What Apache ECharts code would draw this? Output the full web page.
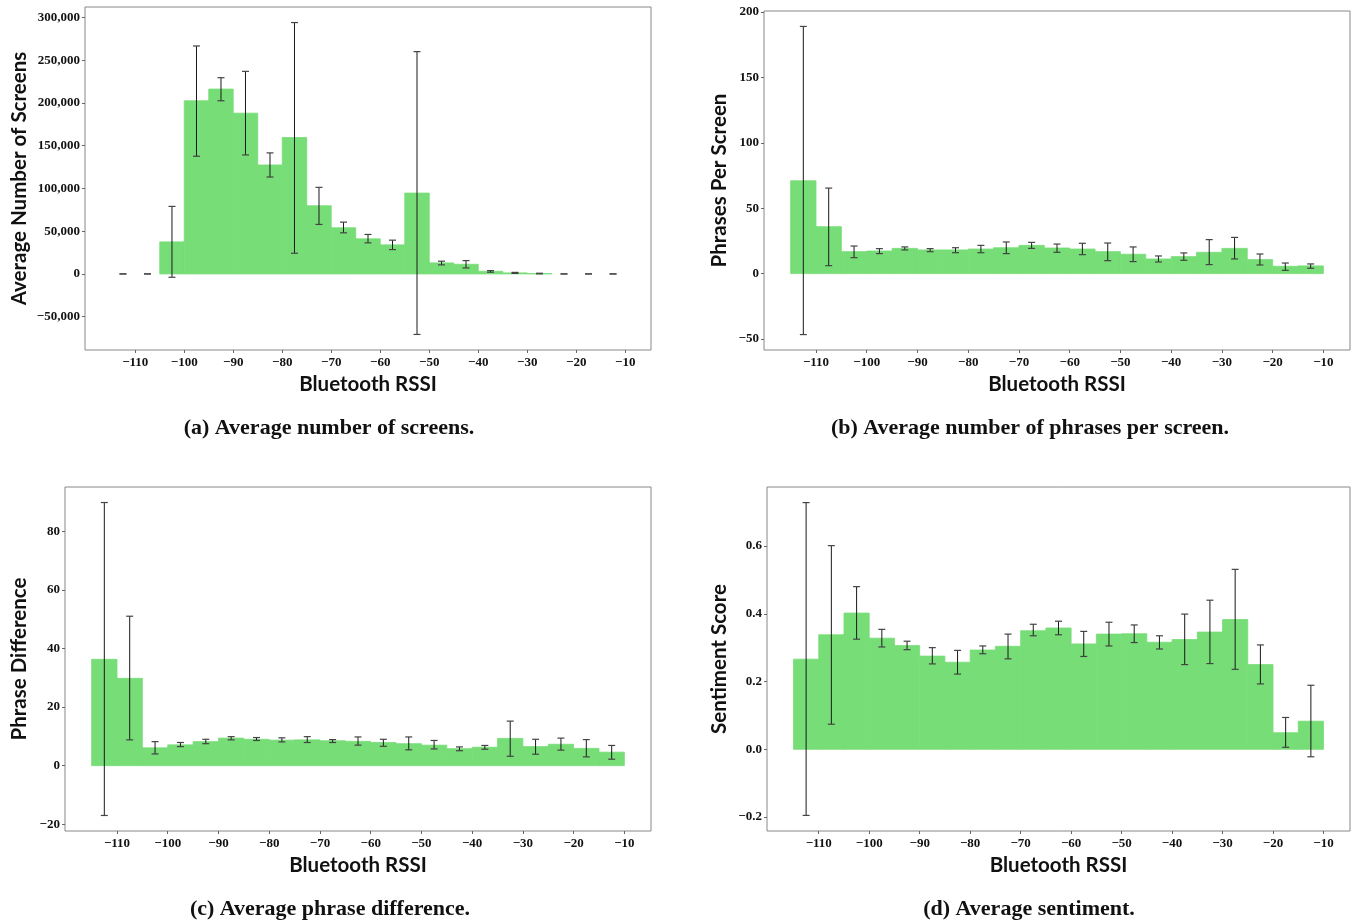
<!DOCTYPE html>
<html>
<head>
<meta charset="utf-8">
<script src="https://cdn.jsdelivr.net/npm/echarts@6.0.0/dist/echarts.min.js"></script>
<style>
  html, body { margin: 0; padding: 0; background: #fff; }
  #chart { width: 1351px; height: 922px; }
</style>
</head>
<body>
<div id="chart"></div>
<script>
// left edge of each 5 dBm RSSI bin
const binLow = [-115, -110, -105, -100, -95, -90, -85, -80, -75, -70, -65, -60, -55, -50, -45, -40, -35, -30, -25, -20, -15];
const binWidth = 5;

const xTicks = [-110, -100, -90, -80, -70, -60, -50, -40, -30, -20, -10];

// (a) average number of screens
const screensMean = [0, 0, 37500, 202600, 216300, 188100, 127500, 159600, 79800, 54000, 41100, 34000, 94600, 12900, 11300, 3100, 1200, 400, 0, 0, 0];
const screensLow  = [0, 0, -3900, 137700, 202600, 139200, 113400, 24200, 57900, 48100, 36400, 28500, -70800, 10600, 7000, 2000, 600, 100, 0, 0, 0];
const screensHigh = [0, 0, 79000, 266700, 229600, 237000, 141600, 294100, 101300, 60600, 46200, 39500, 260100, 14900, 15600, 3900, 1800, 800, 0, 0, 0];
const screensTicks = [-50000, 0, 50000, 100000, 150000, 200000, 250000, 300000];

// (b) phrases per screen
const phrasesMean = [71.0, 35.9, 16.8, 17.3, 19.3, 18.1, 18.1, 18.8, 19.8, 21.6, 19.6, 18.8, 16.8, 14.8, 11.2, 13.0, 16.3, 19.3, 10.7, 5.6, 5.9];
const phrasesLow  = [-46.6, 6.1, 12.2, 15.3, 18.1, 16.8, 16.0, 16.0, 15.3, 19.3, 16.3, 14.5, 9.9, 9.2, 8.9, 10.2, 6.9, 11.2, 6.6, 2.5, 4.1];
const phrasesHigh = [189, 65.4, 21.1, 19.1, 20.4, 19.1, 19.8, 21.6, 24.2, 23.9, 22.6, 23.2, 23.4, 20.4, 13.5, 15.8, 26.0, 27.7, 15.0, 8.1, 7.4];
const phrasesTicks = [-50, 0, 50, 100, 150, 200];

// (c) phrase difference
const diffMean = [36.3, 29.8, 6.1, 7.1, 8.2, 9.4, 9.0, 8.7, 8.8, 8.5, 8.3, 7.9, 7.5, 7.0, 5.8, 6.3, 9.3, 6.5, 7.3, 5.9, 4.6];
const diffLow  = [-17.0, 8.8, 4.0, 6.5, 7.5, 8.8, 8.6, 8.1, 7.9, 7.9, 7.0, 6.6, 5.4, 5.7, 5.1, 5.6, 3.2, 3.9, 5.3, 3.0, 2.2];
const diffHigh = [89.8, 51.0, 8.2, 7.9, 9.0, 9.9, 9.6, 9.5, 9.9, 8.9, 9.8, 9.0, 9.8, 8.6, 6.4, 6.9, 15.2, 9.0, 9.4, 8.9, 6.9];
const diffTicks = [-20, 0, 20, 40, 60, 80];

// (d) sentiment
const sentMean = [0.266, 0.338, 0.402, 0.328, 0.306, 0.275, 0.257, 0.293, 0.304, 0.350, 0.358, 0.311, 0.340, 0.341, 0.316, 0.324, 0.346, 0.383, 0.250, 0.049, 0.083];
const sentLow  = [-0.195, 0.074, 0.325, 0.302, 0.294, 0.252, 0.222, 0.282, 0.267, 0.335, 0.338, 0.274, 0.305, 0.315, 0.296, 0.250, 0.253, 0.236, 0.193, 0.006, -0.022];
const sentHigh = [0.728, 0.601, 0.480, 0.354, 0.319, 0.300, 0.292, 0.305, 0.340, 0.369, 0.378, 0.348, 0.375, 0.367, 0.335, 0.399, 0.440, 0.531, 0.308, 0.094, 0.189];
const sentTicks = [-0.2, 0, 0.2, 0.4, 0.6];

const BAR_COLOR = "#77dd77";
const TICK_FONT = "'Liberation Serif', serif";
const NAME_FONT = "Lato, 'Open Sans', sans-serif";

function minusSign(s) {
    return s.replace("-", "\u2212");
}

const panels = [
    {
        grid: { left: 85, right: 700, top: 7, height: 343 },
        yMin: -89000, yMax: 312300, yTicks: screensTicks, yName: "Average Number of Screens", yGap: 55,
        fmt: (v) => minusSign(v.toLocaleString("en-US")),
        mean: screensMean, low: screensLow, high: screensHigh,
        caption: "(a) Average number of screens.", capX: 324, capY: 412,
    },
    {
        grid: { left: 764, right: 1, top: 11, height: 339 },
        yMin: -58.4, yMax: 200.8, yTicks: phrasesTicks, yName: "Phrases Per Screen", yGap: 34,
        fmt: (v) => minusSign(String(v)),
        mean: phrasesMean, low: phrasesLow, high: phrasesHigh,
        caption: "(b) Average number of phrases per screen.", capX: 1025, capY: 412,
    },
    {
        grid: { left: 65, right: 700, top: 487, height: 344 },
        yMin: -22.3, yMax: 95.1, yTicks: diffTicks, yName: "Phrase Difference", yGap: 35,
        fmt: (v) => minusSign(String(v)),
        mean: diffMean, low: diffLow, high: diffHigh,
        caption: "(c) Average phrase difference.", capX: 325, capY: 893,
    },
    {
        grid: { left: 767, right: 1, top: 487, height: 344 },
        yMin: -0.241, yMax: 0.774, yTicks: sentTicks, yName: "Sentiment Score", yGap: 37,
        fmt: (v) => minusSign(v.toFixed(1)),
        mean: sentMean, low: sentLow, high: sentHigh,
        caption: "(d) Average sentiment.", capX: 1024, capY: 893,
    },
];

function renderBar(params, api) {
    if (api.value(2) === 0) {
        return null;
    }
    let p0 = api.coord([api.value(0), api.value(2)]);
    let p1 = api.coord([api.value(1), 0]);
    return {
        type: "rect",
        shape: {
            x: p0[0],
            y: Math.min(p0[1], p1[1]),
            width: p1[0] - p0[0],
            height: Math.abs(p1[1] - p0[1]),
        },
        // stroke in the fill colour hides the seams between adjacent bins
        style: { fill: BAR_COLOR, stroke: BAR_COLOR, lineWidth: 0.8 },
    };
}

function renderErr(params, api) {
    let top = api.coord([api.value(0), api.value(2)]);
    let bot = api.coord([api.value(0), api.value(1)]);
    let cap = 3.5;
    let style = { stroke: "#1a1a1a", lineWidth: 1 };
    let capStyle = { stroke: "#444", lineWidth: 1.2 };
    return {
        type: "group",
        children: [
            { type: "line", shape: { x1: top[0], y1: top[1], x2: bot[0], y2: bot[1] }, style: style },
            { type: "line", shape: { x1: top[0] - cap, y1: top[1], x2: top[0] + cap, y2: top[1] }, style: capStyle },
            { type: "line", shape: { x1: bot[0] - cap, y1: bot[1], x2: bot[0] + cap, y2: bot[1] }, style: capStyle },
        ],
    };
}

let option = {
    animation: false,
    backgroundColor: "#fff",
    title: [],
    grid: [],
    xAxis: [],
    yAxis: [],
    series: [],
};

panels.forEach((p, i) => {
    option.grid.push(Object.assign({ show: true, borderColor: "#888", borderWidth: 1, backgroundColor: "#fff" }, p.grid));

    option.xAxis.push({
        type: "value",
        gridIndex: i,
        min: -120.25,
        max: -4.75,
        name: "Bluetooth RSSI",
        nameLocation: "middle",
        nameGap: 24,
        nameTextStyle: { fontFamily: NAME_FONT, fontWeight: "bold", fontSize: 20.5, color: "#111", verticalAlign: "top" },
        axisLine: { show: false, onZero: false },
        axisTick: { show: true, length: 3, customValues: xTicks, lineStyle: { color: "#666" } },
        axisLabel: {
            customValues: xTicks,
            margin: 6,
            fontFamily: TICK_FONT, fontWeight: "bold", fontSize: 13, color: "#111",
            formatter: (v) => minusSign(String(v)),
        },
        splitLine: { show: false },
    });

    option.yAxis.push({
        type: "value",
        gridIndex: i,
        min: p.yMin,
        max: p.yMax,
        name: p.yName,
        nameLocation: "middle",
        nameGap: p.yGap,
        nameRotate: 90,
        nameTextStyle: { fontFamily: NAME_FONT, fontWeight: "bold", fontSize: 20.5, color: "#111" },
        axisLine: { show: false, onZero: false },
        axisTick: { show: true, length: 3, customValues: p.yTicks, lineStyle: { color: "#666" } },
        axisLabel: {
            customValues: p.yTicks,
            margin: 5,
            fontFamily: TICK_FONT, fontWeight: "bold", fontSize: 13, color: "#111",
            formatter: p.fmt,
        },
        splitLine: { show: false },
    });

    option.series.push({
        type: "custom",
        xAxisIndex: i,
        yAxisIndex: i,
        renderItem: renderBar,
        encode: { x: [0, 1], y: 2 },
        data: binLow.map((lo, k) => [lo, lo + binWidth, p.mean[k]]),
        z: 2,
    });

    option.series.push({
        type: "custom",
        xAxisIndex: i,
        yAxisIndex: i,
        renderItem: renderErr,
        encode: { x: 0, y: [1, 2] },
        data: binLow.map((lo, k) => [lo + binWidth / 2, p.low[k], p.high[k]]),
        z: 3,
    });

    option.title.push({
        text: p.caption,
        left: p.capX,
        top: p.capY,
        textAlign: "center",
        textStyle: { fontFamily: TICK_FONT, fontWeight: "bold", fontSize: 22, color: "#111" },
    });
});

let chart = echarts.init(document.getElementById("chart"), null, { renderer: "canvas" });
chart.setOption(option);
</script>
</body>
</html>
